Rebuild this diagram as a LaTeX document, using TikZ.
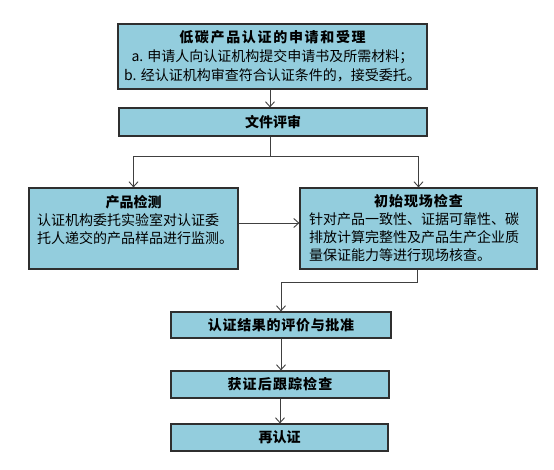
\documentclass[tikz,border=0pt]{standalone}
\usepackage{fontspec}
\setmainfont{Noto Sans CJK SC}
\usetikzlibrary{arrows.meta,calc}
\definecolor{boxfill}{HTML}{93CDDD}
\definecolor{boxline}{HTML}{2F2F2F}
\definecolor{arrline}{HTML}{404040}
\newcommand{\ttl}[2]{{\bfseries\addfontfeatures{LetterSpace=#1}#2}}
\begin{document}
\begin{tikzpicture}[x=1pt,y=-1pt,
  box/.style={draw=boxline,line width=1.2pt,fill=boxfill,inner sep=0pt,
    font=\fontsize{14}{18}\selectfont},
  arr/.style={draw=arrline,line width=0.9pt,-{Straight Barb[length=5pt,width=9pt]}},
  ln/.style={draw=arrline,line width=0.9pt}]
\useasboundingbox[fill=white] (0,0) rectangle (554,469);

\node[box,minimum width=309pt,minimum height=65pt,align=center,
  font=\fontsize{14}{19}\selectfont] (b1) at (272.5,56.5)
  {\ttl{12}{低碳产品认证的申请和受理}\\a. 申请人向认证机构提交申请书及所需材料；\\b. 经认证机构审查符合认证条件的，接受委托。};

\node[box,minimum width=308pt,minimum height=28pt] (b2) at (273,122) {\bfseries 文件评审};

\node[box,minimum width=209pt,minimum height=81pt,text width=193pt,align=left] (b3) at (133.5,228.5)
  {\makebox[193pt][c]{\bfseries 产品检测}\\认证机构委托实验室对认证委\\托人递交的产品样品进行监测。\\\mbox{}};

\node[box,minimum width=237pt,minimum height=81pt,text width=219pt,align=left] (b4) at (418.5,228.5)
  {\makebox[219pt][c]{\ttl{7}{初始现场检查}}\\针对产品一致性、证据可靠性、碳\\排放计算完整性及产品生产企业质\\量保证能力等进行现场核查。};

\node[box,minimum width=220pt,minimum height=26pt] (b5) at (281,325) {\ttl{5}{认证结果的评价与批准}};
\node[box,minimum width=218pt,minimum height=27pt] (b6) at (280,384.5) {\ttl{8}{获证后跟踪检查}};
\node[box,minimum width=217pt,minimum height=27pt] (b7) at (279.5,437.5) {\bfseries 再认证};

\coordinate (sp) at (270,156);
\coordinate (k) at (417,282);

\draw[arr] (b1.south -| sp) -- (b2.north -| sp);
\draw[ln] (b2.south -| sp) -- (sp);
\draw[arr] (sp) -| (b3.north);
\draw[arr] (sp) -| (b4.north);
\draw[arr] ([yshift=5.5pt]b3.east) -- ([yshift=5.5pt]b4.west);
\draw[arr] (b4.south -| k) -- (k) -| (b5.north);
\draw[arr] (b5.south) -- (b5.south |- b6.north);
\draw[arr] (b6.south) -- (b6.south |- b7.north);
\end{tikzpicture}
\end{document}
